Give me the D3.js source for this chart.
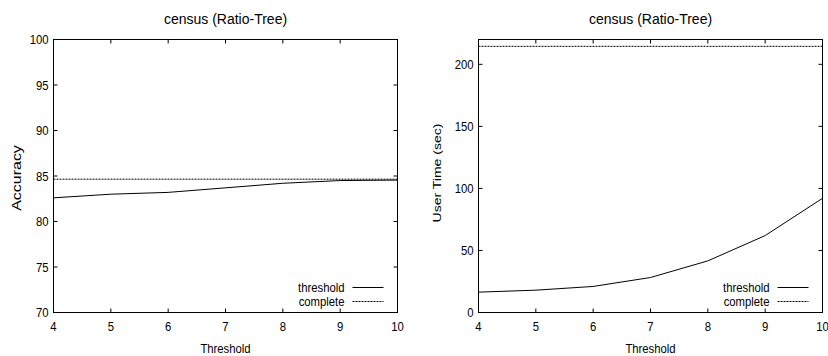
<!DOCTYPE html>
<html>
<head>
<meta charset="utf-8">
<script src="https://cdn.jsdelivr.net/npm/d3@7"></script>
<style>
  body { margin: 0; background: #fff; }
  text { font-family: "Liberation Sans", Arial, sans-serif; fill: #000; }
</style>
</head>
<body>
<div id="chart"></div>
<script>
// data
var thresholds = [4, 5, 6, 7, 8, 9, 10];
var accThreshold = [82.6, 83.0, 83.2, 83.7, 84.2, 84.5, 84.55];
var accComplete = 84.65;
var timeThreshold = [16.4, 18, 21, 28.2, 41.6, 62, 92];
var timeComplete = 214.5;
var accTicks = [70, 75, 80, 85, 90, 95, 100];
var timeTicks = [0, 50, 100, 150, 200];
var legendNames = ["threshold", "complete"];

var svg = d3.select("#chart").append("svg")
    .attr("width", 828)
    .attr("height", 356);

// gnuplot-ish narrow text: draw at (x,y), squeezed by sx / sy
function label(g, x, y, str, anchor, size, sx, rot, sy) {
  return g.append("text")
    .attr("transform", "translate(" + x + "," + y + ")" + (rot ? " rotate(" + rot + ")" : "") +
          " scale(" + sx + "," + (sy || 1) + ")")
    .attr("dy", "0.35em")
    .attr("text-anchor", anchor)
    .style("font-size", size + "px")
    .text(str);
}

function panel(opts) {
  var x = d3.scaleLinear().domain([4, 10]).range([opts.left, opts.right]);
  var y = d3.scaleLinear().domain(opts.domain).range([312.5, 39.5]);
  var g = svg.append("g");

  // ticks (inside, mirrored)
  thresholds.forEach(function (t) {
    g.append("line").attr("x1", x(t)).attr("x2", x(t)).attr("y1", 312.5).attr("y2", 308.5).attr("stroke", "#000");
    g.append("line").attr("x1", x(t)).attr("x2", x(t)).attr("y1", 39.5).attr("y2", 43.5).attr("stroke", "#000");
    label(g, x(t), 326, t, "middle", 13, 0.87);
  });
  opts.ticks.forEach(function (t) {
    g.append("line").attr("x1", opts.left).attr("x2", opts.left + 4).attr("y1", y(t)).attr("y2", y(t)).attr("stroke", "#000");
    g.append("line").attr("x1", opts.right).attr("x2", opts.right - 4).attr("y1", y(t)).attr("y2", y(t)).attr("stroke", "#000");
    label(g, opts.left - 5, y(t), t, "end", 13, 0.87);
  });

  // complete line
  g.append("line")
    .attr("x1", x(4)).attr("x2", x(10))
    .attr("y1", y(opts.complete)).attr("y2", y(opts.complete))
    .attr("stroke", "#000").attr("stroke-width", 1).attr("stroke-dasharray", "2,1");

  // threshold line
  var line = d3.line().x(function (d, i) { return x(thresholds[i]); }).y(function (d) { return y(d); });
  g.append("path").datum(opts.values)
    .attr("d", line).attr("fill", "none").attr("stroke", "#000").attr("stroke-width", 1);

  // frame
  g.append("rect")
    .attr("x", opts.left).attr("y", 39.5)
    .attr("width", opts.right - opts.left).attr("height", 273)
    .attr("fill", "none").attr("stroke", "#000");

  // legend
  legendNames.forEach(function (n, i) {
    var ly = 287 + i * 14;
    label(g, opts.right - 53, ly, n, "end", 13, 0.87);
    g.append("line").attr("x1", opts.right - 45).attr("x2", opts.right - 14)
      .attr("y1", ly + 0.5).attr("y2", ly + 0.5).attr("stroke", "#000")
      .attr("stroke-dasharray", i === 1 ? "2,1" : null);
  });

  // titles
  label(g, (opts.left + opts.right) / 2, 19, "census (Ratio-Tree)", "middle", 14, 1);
  label(g, (opts.left + opts.right) / 2, 348, "Threshold", "middle", 13, 0.87);
  label(g, opts.ylabelX, opts.ylabelY, opts.ylabel, "middle", opts.ylabelSize, 1, -90, opts.ylabelSy);
}

panel({ left: 53.5, right: 397.5, domain: [70, 100], ticks: accTicks,
        values: accThreshold, complete: accComplete,
        ylabel: "Accuracy", ylabelX: 17, ylabelY: 178, ylabelSize: 16, ylabelSy: 0.78 });
panel({ left: 478.5, right: 822.5, domain: [0, 220], ticks: timeTicks,
        values: timeThreshold, complete: timeComplete,
        ylabel: "User Time (sec)", ylabelX: 437, ylabelY: 173, ylabelSize: 14, ylabelSy: 0.83 });
</script>
</body>
</html>
